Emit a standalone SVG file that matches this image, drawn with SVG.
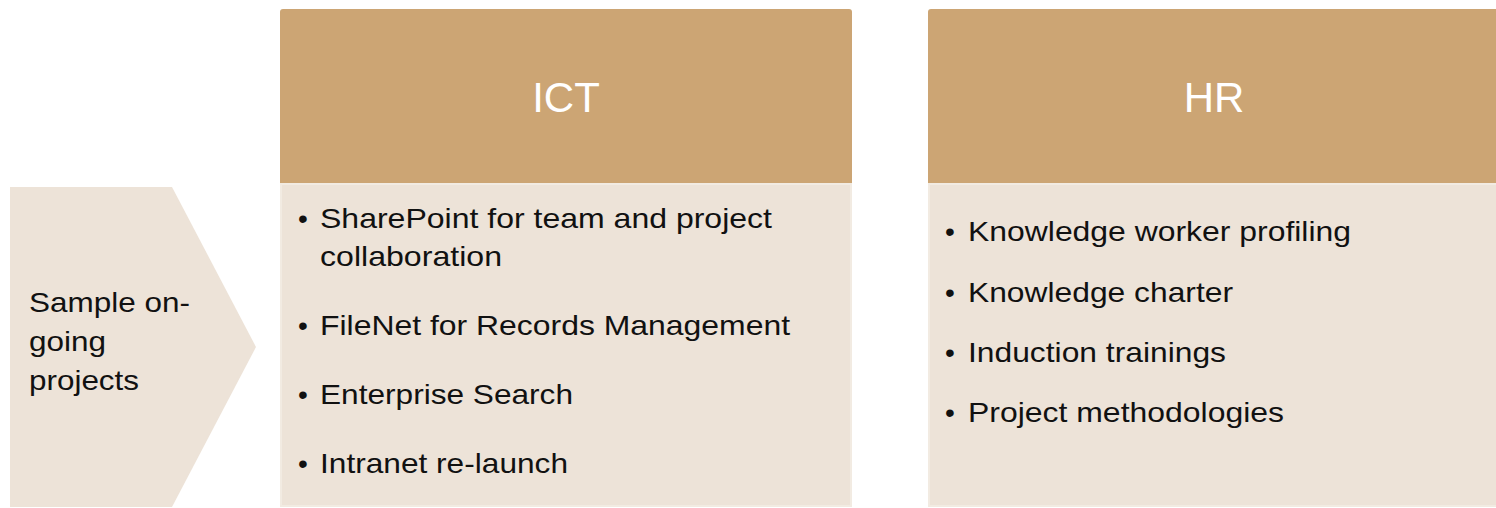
<svg xmlns="http://www.w3.org/2000/svg" width="1496" height="508" viewBox="0 0 1496 508">
<style>
.hdr{fill:#CCA574;}
.body{fill:#EDE3D8;stroke:#F2EBE2;stroke-width:2;}
.chev{fill:#EDE3D8;}
.title{font-family:"Liberation Sans",Arial,sans-serif;font-size:42px;fill:#FFFFFF;text-anchor:middle;}
.txt{font-family:"Liberation Sans",Arial,sans-serif;font-size:28px;fill:#111111;}
</style>
<rect width="1496" height="508" fill="#FFFFFF"/>
<g id="label">
<polygon class="chev" points="10,187 172,187 256,347 172,507 10,507"/>
<text class="txt" x="29" y="312" textLength="161" lengthAdjust="spacingAndGlyphs">Sample on-</text>
<text class="txt" x="29" y="351" textLength="77" lengthAdjust="spacingAndGlyphs">going</text>
<text class="txt" x="29" y="390" textLength="110" lengthAdjust="spacingAndGlyphs">projects</text>
</g>
<g id="ict">
<rect class="hdr" x="280" y="9" width="572" height="180" rx="3"/>
<text class="title" x="566" y="112">ICT</text>
<rect class="body" x="281" y="184" width="570" height="322"/>
<text class="txt" x="298" y="228">•</text>
<text class="txt" x="320" y="228" textLength="452" lengthAdjust="spacingAndGlyphs">SharePoint for team and project</text>
<text class="txt" x="320" y="266" textLength="182" lengthAdjust="spacingAndGlyphs">collaboration</text>
<text class="txt" x="298" y="335">•</text>
<text class="txt" x="320" y="335" textLength="470" lengthAdjust="spacingAndGlyphs">FileNet for Records Management</text>
<text class="txt" x="298" y="404">•</text>
<text class="txt" x="320" y="404" textLength="253" lengthAdjust="spacingAndGlyphs">Enterprise Search</text>
<text class="txt" x="298" y="473">•</text>
<text class="txt" x="320" y="473" textLength="248" lengthAdjust="spacingAndGlyphs">Intranet re-launch</text>
</g>
<g id="hr">
<rect class="hdr" x="928" y="9" width="576" height="180" rx="3"/>
<text class="title" x="1214" y="112">HR</text>
<rect class="body" x="929" y="184" width="574" height="322"/>
<text class="txt" x="945" y="241">•</text>
<text class="txt" x="968" y="241" textLength="383" lengthAdjust="spacingAndGlyphs">Knowledge worker profiling</text>
<text class="txt" x="945" y="302">•</text>
<text class="txt" x="968" y="302" textLength="265" lengthAdjust="spacingAndGlyphs">Knowledge charter</text>
<text class="txt" x="945" y="362">•</text>
<text class="txt" x="968" y="362" textLength="258" lengthAdjust="spacingAndGlyphs">Induction trainings</text>
<text class="txt" x="945" y="422">•</text>
<text class="txt" x="968" y="422" textLength="316" lengthAdjust="spacingAndGlyphs">Project methodologies</text>
</g>
</svg>
